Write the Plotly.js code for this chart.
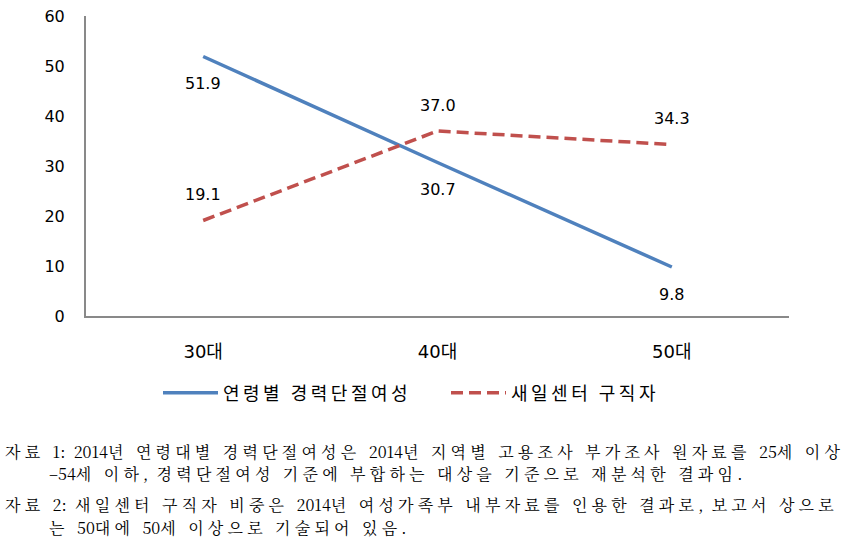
<!DOCTYPE html>
<html>
<head>
<meta charset="utf-8">
<script src="https://cdn.plot.ly/plotly-3.0.1.min.js"></script>
<style>
  html, body { margin: 0; padding: 0; background: #fff; }
  #chart { width: 852px; height: 545px; }
  /* 원본 그림의 넓은 자간 (주석) */
  .annotation[data-index="0"] .annotation-text,
  .annotation[data-index="1"] .annotation-text,
  .annotation[data-index="2"] .annotation-text,
  .annotation[data-index="3"] .annotation-text { letter-spacing: 4.2px; }
</style>
</head>
<body>
<div id="chart"></div>
<script>
var ageGroups = ['30대', '40대', '50대'];
var careerBreak = [51.9, 30.7, 9.8];
var jobSeekers = [19.1, 37.0, 34.3];
var careerBreakName = '연령별 경력단절여성';
var jobSeekersName = '새일센터 구직자';
var yTicks = [0, 10, 20, 30, 40, 50, 60];

var notes = [
  {text: '자료 1: 2014년 연령대별 경력단절여성은 2014년 지역별 고용조사 부가조사 원자료를 25세 이상', px: 3, py: 451},
  {text: '–54세 이하, 경력단절여성 기준에 부합하는 대상을 기준으로 재분석한 결과임.', px: 47, py: 473},
  {text: '자료 2: 새일센터 구직자 비중은 2014년 여성가족부 내부자료를 인용한 결과로, 보고서 상으로', px: 3, py: 504},
  {text: '는 50대에 50세 이상으로 기술되어 있음.', px: 47, py: 527}
];

var sansKr = '"Noto Sans CJK KR", "DejaVu Sans", sans-serif';
var numFont = '"DejaVu Sans", "Noto Sans CJK KR", sans-serif';

function spaced(s, px) {
  return '<span style="letter-spacing:' + px + 'px">' + s + '</span>';
}
// 숫자·문장부호는 자간 없이
function tightDigits(s) {
  return s.replace(/([0-9:.,–]+)/g, '<span style="letter-spacing:0px">$1</span>');
}

var trace1 = {
  x: ageGroups,
  y: careerBreak,
  type: 'scatter',
  mode: 'lines',
  name: spaced(careerBreakName, 3.5),
  line: {color: '#4F81BD', width: 3.5},
  hoverinfo: 'x+y'
};

var trace2 = {
  x: ageGroups,
  y: jobSeekers,
  type: 'scatter',
  mode: 'lines',
  name: spaced(jobSeekersName, 3.5),
  line: {color: '#C0504D', width: 3.5, dash: '12px,6px'},
  hoverinfo: 'x+y'
};

var L = 86, R = 789, T = 16, B = 316;
var annotations = [];

// 하단 주석 (index 0-3)
notes.forEach(function (n) {
  annotations.push({
    xref: 'paper', yref: 'paper',
    x: (n.px - L) / (R - L), y: (B - n.py) / (B - T),
    xanchor: 'left', yanchor: 'middle', align: 'left',
    text: tightDigits(n.text), showarrow: false,
    font: {family: '"Noto Serif CJK KR", "Liberation Serif", "Noto Sans CJK KR", serif', size: 16, color: '#000'}
  });
});

// 값 라벨
careerBreak.forEach(function (v, i) {
  annotations.push({
    x: ageGroups[i], y: v, xref: 'x', yref: 'y',
    text: v.toFixed(1), showarrow: false,
    yshift: -27, font: {family: numFont, size: 16, color: '#000'}
  });
});
jobSeekers.forEach(function (v, i) {
  annotations.push({
    x: ageGroups[i], y: v, xref: 'x', yref: 'y',
    text: v.toFixed(1), showarrow: false,
    yshift: 26, font: {family: numFont, size: 16, color: '#000'}
  });
});

var layout = {
  width: 852,
  height: 545,
  margin: {l: L, r: 852 - R, t: T, b: 545 - B},
  paper_bgcolor: '#fff',
  plot_bgcolor: '#fff',
  showlegend: true,
  legend: {
    orientation: 'h',
    x: (158 - L) / (R - L), xanchor: 'left',
    y: -0.257, yanchor: 'middle',
    font: {family: sansKr, size: 18, color: '#000'},
    itemwidth: 55,
    entrywidth: 218,
    tracegroupgap: 0
  },
  xaxis: {
    type: 'category',
    range: [-0.5, 2.5],
    showgrid: false,
    zeroline: false,
    showline: true,
    linecolor: '#898989',
    linewidth: 2,
    ticks: 'outside',
    ticklen: 18,
    tickcolor: 'rgba(0,0,0,0)',
    tickfont: {family: numFont, size: 18, color: '#000'},
    fixedrange: true
  },
  yaxis: {
    range: [0, 60],
    tickvals: yTicks,
    showgrid: false,
    zeroline: false,
    showline: true,
    linecolor: '#898989',
    linewidth: 2,
    ticks: 'outside',
    ticklen: 16,
    tickcolor: 'rgba(0,0,0,0)',
    tickfont: {family: numFont, size: 16, color: '#000'},
    fixedrange: true
  },
  annotations: annotations
};

Plotly.newPlot('chart', [trace1, trace2], layout, {displayModeBar: false, staticPlot: true});
</script>
</body>
</html>
